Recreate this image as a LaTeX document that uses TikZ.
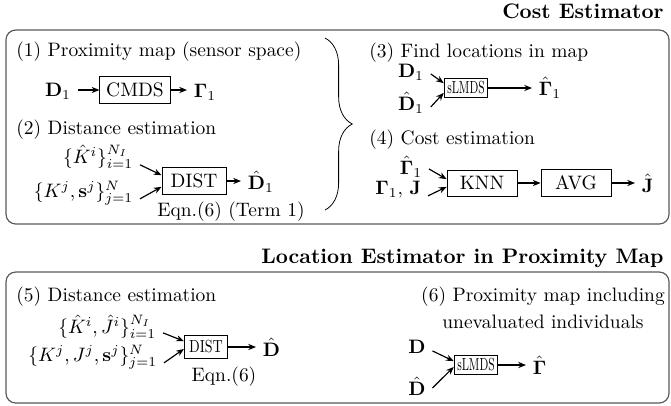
\documentclass[tikz,border=0pt]{standalone}
\usepackage{amsmath}
\usepackage{graphicx}
\usetikzlibrary{arrows.meta,decorations.pathreplacing}
\tikzset{
  every node/.style={inner ysep=1pt},
  frame/.style={draw=black!65,line width=0.6pt,rounded corners=5pt},
  blk/.style={draw,fill=white,inner sep=3.3pt},
  wblk/.style={blk,minimum width=36pt,minimum height=12pt},
  lbl/.style={anchor=west,inner sep=0pt},
  ttl/.style={inner sep=0pt,font=\fontsize{10.8}{13}\selectfont\bfseries},
  arr/.style={-{Stealth[length=4pt,width=3.2pt]},semithick},
}
\newcommand{\slmds}{\small\scalebox{0.64}[1]{sLMDS}}

\begin{document}
\begin{tikzpicture}[x=0.514pt,y=-0.514pt]
			%%%%% START %%%%%
			\useasboundingbox (0,0) rectangle (671,405);
			
			%%%%% cost estimator %%%%%
			\draw[frame] (6,30) rectangle (669,224);
			\node[ttl,anchor=base east] (cost) at (664,18) {Cost Estimator};
			
			\node[lbl] (s1) at (16,52) {(1) Proximity map (sensor space)};
			\node (d1) at (58,91) {$\mathbf{D}_1$};
			\node[blk] (cmds) at (135,90) {CMDS};
			\node[anchor=west] (g1) at (187,92) {$\boldsymbol{\Gamma}_1$};
			\draw[arr] (d1.east |- cmds.west) -- (cmds.west);
			\draw[arr] (cmds.east) -- (g1.west |- cmds.east);
			
			\node[lbl] (s2) at (16,130) {(2) Distance estimation};
			\node[anchor=east] (kh) at (140,157) {$\{\hat{K}^i\}_{i=1}^{N_I}$};
			\node[anchor=east] (ks) at (140,193) {$\{K^j,\mathbf{s}^j\}_{j=1}^{N}$};
			\node[blk,minimum width=33pt,minimum height=14pt] (dist) at (194,181) {DIST};
			\node[anchor=west] (dh1) at (241,182) {$\hat{\mathbf{D}}_1$};
			\node (eq1) at (231,212) {Eqn.(6) (Term 1)};
			\draw[arr] ([yshift=-4pt]kh.east) -- ([yshift=3pt]dist.west);
			\draw[arr] ([yshift=-3pt]ks.east) -- ([yshift=-3pt]dist.west);
			\draw[arr] (dist.east) -- (dh1.west |- dist.east);
			
			\draw[decorate,decoration={brace,amplitude=14pt}] (325,38) -- (325,210);
			
			\node[lbl] (s3) at (369,53) {(3) Find locations in map};
			\node (d1b) at (411,72) {$\mathbf{D}_1$};
			\node (dh1b) at (411,103) {$\hat{\mathbf{D}}_1$};
			\node[blk,inner sep=1.6pt] (slm) at (466,88) {\slmds};
			\node[anchor=west] (gh1) at (532,88) {$\hat{\boldsymbol{\Gamma}}_1$};
			\draw[arr] ([yshift=-1pt]d1b.east) -- ([yshift=2.5pt]slm.west);
			\draw[arr] ([yshift=-2pt]dh1b.east) -- ([yshift=-2.5pt]slm.west);
			\draw[arr] (slm.east) -- (gh1.west |- slm.east);
			
			\node[lbl] (s4) at (369,140) {(4) Cost estimation};
			\node (gh1b) at (411,167) {$\hat{\boldsymbol{\Gamma}}_1$};
			\node[anchor=east] (gj) at (428,190) {$\boldsymbol{\Gamma}_1,\,\mathbf{J}$};
			\node[wblk] (knn) at (482,183) {KNN};
			\node[wblk] (avg) at (576,183) {AVG};
			\node[anchor=west] (jh) at (635,183) {$\hat{\mathbf{J}}$};
			\draw[arr] ([yshift=-1pt]gh1b.east) -- ([yshift=2pt]knn.west);
			\draw[arr] ([yshift=-3pt]gj.east) -- ([yshift=-2pt]knn.west);
			\draw[arr] (knn) -- (avg);
			\draw[arr] (avg.east) -- (jh.west |- avg.east);
			
			%%%%% location estimator %%%%%
			\draw[frame] (6,272) rectangle (669,403);
			\node[ttl,anchor=base east] (loc) at (664,263) {Location Estimator in Proximity Map};
			
			\node[lbl] (s5) at (16,297) {(5) Distance estimation};
			\node[anchor=east] (kj) at (163,327) {$\{\hat{K}^i,\hat{J}^i\}_{i=1}^{N_I}$};
			\node[anchor=east] (kjs) at (164,357) {$\{K^j,J^j,\mathbf{s}^j\}_{j=1}^{N}$};
			\node[blk,inner sep=2.5pt] (dist2) at (206,347) {\scalebox{0.72}[0.9]{DIST}};
			\node[anchor=west] (dh) at (256,347) {$\hat{\mathbf{D}}$};
			\node (eq2) at (224,377) {Eqn.(6)};
			\draw[arr] ([yshift=-3pt]kj.east) -- ([yshift=3pt]dist2.west);
			\draw[arr] ([yshift=-3pt]kjs.east) -- ([yshift=-1pt]dist2.west);
			\draw[arr] (dist2.east) -- (dh.west |- dist2.east);
			
			\node[inner sep=0pt,align=center] (s6) at (543,308) {(6) Proximity map including\\[2pt]unevaluated individuals};
			\node (dd) at (417,347) {$\mathbf{D}$};
			\node (ddh) at (417,386) {$\hat{\mathbf{D}}$};
			\node[blk,inner sep=1.6pt] (slm2) at (476,365) {\slmds};
			\node[anchor=west] (gh) at (526,365) {$\hat{\boldsymbol{\Gamma}}$};
			\draw[arr] ([yshift=-2pt]dd.east) -- ([yshift=2pt]slm2.west);
			\draw[arr] ([yshift=-1pt]ddh.east) -- ([yshift=-1pt]slm2.west);
			\draw[arr] (slm2.east) -- (gh.west |- slm2.east);
			%%%%% END %%%%%
\end{tikzpicture}
\end{document}
